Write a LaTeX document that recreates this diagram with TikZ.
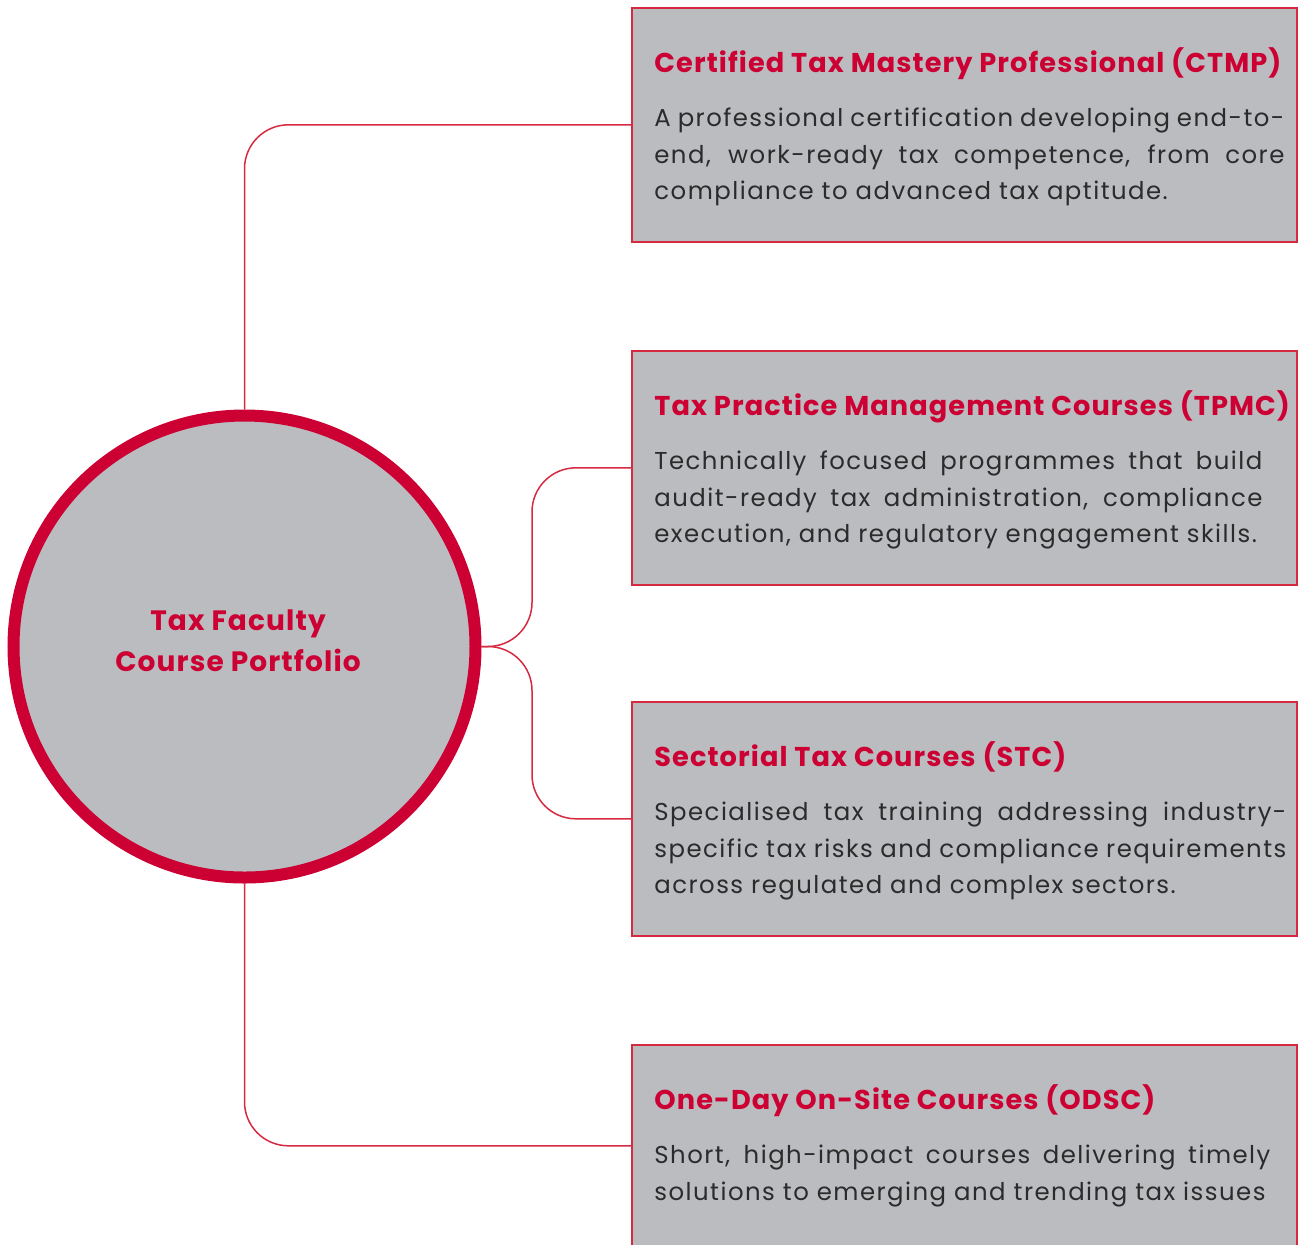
\documentclass[tikz,border=0pt]{standalone}
\usepackage{fontspec}
\setmainfont{Poppins}
\newfontfamily\widefont[LetterSpace=6]{Poppins}
\newfontfamily\headfont[LetterSpace=4]{Poppins}
\definecolor{taxred}{HTML}{CC0033}
\definecolor{linered}{HTML}{D62A40}
\definecolor{panel}{HTML}{BBBCC0}
\definecolor{ink}{HTML}{2B2B2B}
\hyphenpenalty=10000
\exhyphenpenalty=10000
\tolerance=9999
\tikzset{
  hub/.style={circle, draw=taxred, fill=panel, line width=6pt, minimum size=231pt, inner sep=0},
  hubtext/.style={text=taxred, font=\headfont\fontsize{14}{20.5}\selectfont\bfseries, align=center, inner sep=0},
  box/.style={draw=linered, fill=panel, line width=0.8pt, minimum width=332.5pt, minimum height=117pt, anchor=north west, inner sep=0},
  head/.style={text=taxred, font=\headfont\fontsize{13.6}{16}\selectfont\bfseries, anchor=base west, inner sep=0},
  blurb/.style={text=ink, font=\widefont\fontsize{12.2}{18.3}\selectfont, anchor=north west, inner sep=0, align=justify},
  link/.style={draw=linered, line width=0.75pt, rounded corners=22pt}
}
\begin{document}
\begin{tikzpicture}[x=0.5pt, y=-0.5pt]
  \useasboundingbox (0,0) rectangle (1299,1244);
  \clip (0,0) rectangle (1299,1244);

  % hub
  \node[hub] (hub) at (244.5,646.5) {};
  \node[hubtext] (title) at (238,640.5) {Tax Faculty\\Course Portfolio};

  % boxes
  \node[box] (ctmp) at (631,7) {};
  \node[box] (tpmc) at (631,350) {};
  \node[box] (stc) at (631,701) {};
  \node[box, minimum height=101pt] (odsc) at (631,1044) {};

  \node[head] (ctmphead) at (654,72) {Certified Tax Mastery Professional (CTMP)};
  \node[blurb, text width=315pt] (ctmptext) at (654,100.5) {\strut A professional certification developing end-to-\linebreak end, work-ready tax competence, from core\linebreak compliance to advanced tax aptitude.};

  \node[head] (tpmchead) at (654,415) {Tax Practice Management Courses (TPMC)};
  \node[blurb, text width=304pt] (tpmctext) at (654,443.5) {\strut Technically focused programmes that build\linebreak audit-ready tax administration, compliance\linebreak execution, and regulatory engagement skills.};

  \node[head] (stchead) at (654,766) {Sectorial Tax Courses (STC)};
  \node[blurb, text width=316pt] (stctext) at (654,794.5) {\strut Specialised tax training addressing industry-\linebreak specific tax risks and compliance requirements\linebreak across regulated and complex sectors.};

  \node[head] (odschead) at (654,1109) {One-Day On-Site Courses (ODSC)};
  \node[blurb, text width=308pt] (odsctext) at (654,1137.5) {\strut Short, high-impact courses delivering timely\linebreak solutions to emerging and trending tax issues};

  % connectors
  \coordinate (fork1) at (532,646.5);
  \coordinate (fork2) at (532,646.5);
  \begin{scope}[link]
    \draw (hub.north) |- (ctmp.west);
    \draw (hub.east) -- (fork1) |- (tpmc.west);
    \draw (hub.east) -- (fork2) |- (stc.west);
    \draw (hub.south) |- (odsc.west);
  \end{scope}
\end{tikzpicture}
\end{document}
